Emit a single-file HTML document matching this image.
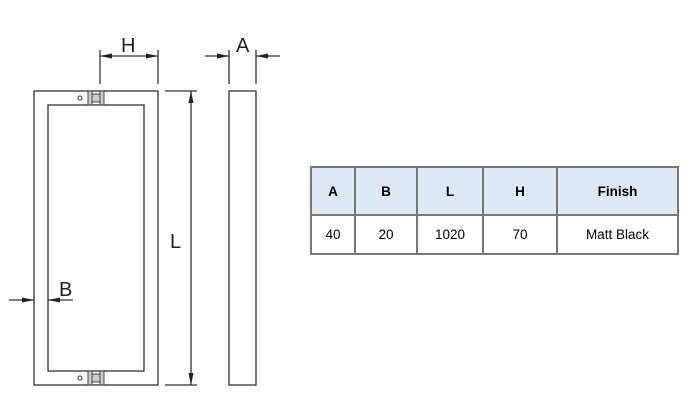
<!DOCTYPE html><html><head><style>body{margin:0;background:#fff;width:692px;height:407px;overflow:hidden;position:relative;font-family:"Liberation Sans",sans-serif}
table{position:absolute;left:310px;top:166px;border-collapse:collapse;font-family:"Liberation Sans",sans-serif;font-size:13.5px}
td{border:2px solid #777;text-align:center;padding:0}
tr.h td{background:#dde8f5;font-weight:bold;height:46px}
tr.d td{height:37px}
</style></head><body>
<svg width="692" height="407" style="position:absolute;left:0;top:0" font-family="Liberation Sans, sans-serif">
<defs><marker id="a" markerUnits="userSpaceOnUse" markerWidth="12" markerHeight="6" refX="12" refY="3" orient="auto-start-reverse"><path d="M0,0.5L12,3L0,5.5z" fill="#222"/></marker></defs>
<g stroke="#333" stroke-width="1.3" fill="none">
<rect x="34" y="91" width="124" height="294"/>
<rect x="48" y="105" width="96" height="266"/>
<line x1="100" y1="50" x2="100" y2="84"/><line x1="158" y1="50" x2="158" y2="84"/>
<line x1="100" y1="56" x2="158" y2="56" marker-start="url(#a)" marker-end="url(#a)"/>
<line x1="165" y1="91" x2="197" y2="91"/><line x1="165" y1="385" x2="197" y2="385"/>
<line x1="191" y1="91" x2="191" y2="385" marker-start="url(#a)" marker-end="url(#a)"/>
<rect x="229" y="91" width="27" height="294"/>
<line x1="229" y1="50" x2="229" y2="84"/><line x1="256" y1="50" x2="256" y2="84"/>
<line x1="205" y1="56" x2="229" y2="56" marker-end="url(#a)"/><line x1="280" y1="56" x2="256" y2="56" marker-end="url(#a)"/>
<line x1="9" y1="300" x2="34" y2="300" marker-end="url(#a)"/><line x1="73" y1="300" x2="48" y2="300" marker-end="url(#a)"/>
<circle cx="80" cy="98" r="2" stroke-width="1"/><circle cx="80" cy="378" r="2" stroke-width="1"/>
</g>
<g fill="#ccc" stroke="#444" stroke-width="1">
<rect x="88" y="91" width="4" height="14"/><rect x="92" y="94" width="8" height="8"/><rect x="100" y="91" width="4" height="14"/>
<rect x="88" y="371" width="4" height="14"/><rect x="92" y="374" width="8" height="8"/><rect x="100" y="371" width="4" height="14"/>
</g>
<g font-size="20" fill="#222">
<text x="121" y="52">H</text><text x="236" y="52">A</text><text x="170" y="248">L</text><text x="59" y="296">B</text>
</g>
</svg>
<table><tr class="h"><td style="width:42px">A</td><td style="width:60px">B</td><td style="width:64px">L</td><td style="width:72px">H</td><td style="width:119px">Finish</td></tr>
<tr class="d"><td>40</td><td>20</td><td>1020</td><td>70</td><td>Matt Black</td></tr></table>
</body></html>
